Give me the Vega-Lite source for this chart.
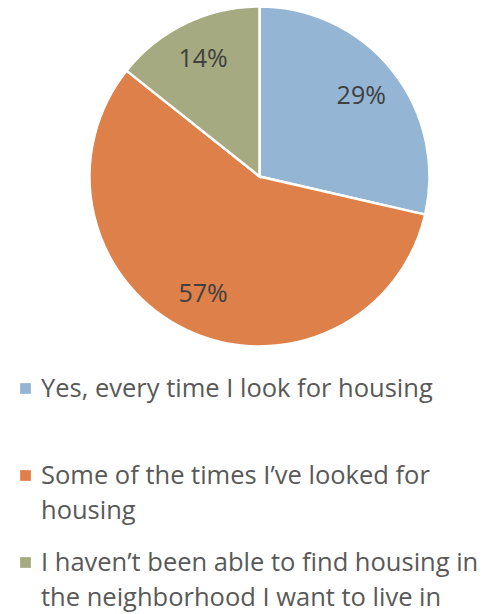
{
  "$schema": "https://vega.github.io/schema/vega-lite/v6.json",
  "padding": {"left": 20, "top": 0, "right": 0, "bottom": 0},
  "spacing": 0,
  "background": "white",
  "config": {"view": {"stroke": null}},
  "data": {
    "values": [
      {"cat": "Yes, every time I look for housing", "legendText": "Yes, every time I look for housing", "value": 28.6, "label": "29%", "ord": 1},
      {"cat": "Some of the times I\u2019ve looked for housing", "legendText": "Some of the times I\u2019ve looked for|housing", "value": 57.1, "label": "57%", "ord": 2},
      {"cat": "I haven\u2019t been able to find housing in the neighborhood I want to live in", "legendText": "I haven\u2019t been able to find housing in|the neighborhood I want to live in", "value": 14.3, "label": "14%", "ord": 3}
    ]
  },
  "vconcat": [
    {
      "width": 479,
      "height": 353,
      "encoding": {
        "theta": {"field": "value", "type": "quantitative", "stack": true},
        "order": {"field": "ord", "type": "quantitative"}
      },
      "layer": [
        {
          "mark": {"type": "arc", "outerRadius": 170, "stroke": "white", "strokeWidth": 2.5},
          "encoding": {
            "color": {
              "field": "cat",
              "type": "nominal",
              "sort": null,
              "scale": {"range": ["#94B5D4", "#DE8049", "#A5AA80"]},
              "legend": null
            }
          }
        },
        {
          "mark": {"type": "text", "radius": 130, "font": "Open Sans", "fontSize": 25, "color": "#404040"},
          "encoding": {
            "text": {"field": "label", "type": "nominal"},
            "detail": {"field": "cat", "type": "nominal"}
          }
        }
      ]
    },
    {
      "width": 467,
      "height": 261,
      "encoding": {
        "y": {
          "field": "cat",
          "type": "nominal",
          "sort": {"field": "ord"},
          "scale": {"type": "band", "paddingInner": 0, "paddingOuter": 0},
          "axis": null
        },
        "x": {"datum": 0, "type": "quantitative", "scale": {"domain": [0, 1]}, "axis": null}
      },
      "layer": [
        {
          "mark": {"type": "square", "size": 115, "filled": true, "opacity": 1, "xOffset": 5.5, "yOffset": -8},
          "encoding": {
            "color": {
              "field": "cat",
              "type": "nominal",
              "sort": null,
              "scale": {"range": ["#94B5D4", "#DE8049", "#A5AA80"]},
              "legend": null
            }
          }
        },
        {
          "mark": {"type": "text", "align": "left", "baseline": "alphabetic", "dx": 21, "font": "Open Sans", "fontSize": 25.5, "lineHeight": 35, "lineBreak": "|", "color": "#595959"},
          "encoding": {
            "text": {"field": "legendText", "type": "nominal"}
          }
        }
      ]
    }
  ]
}
